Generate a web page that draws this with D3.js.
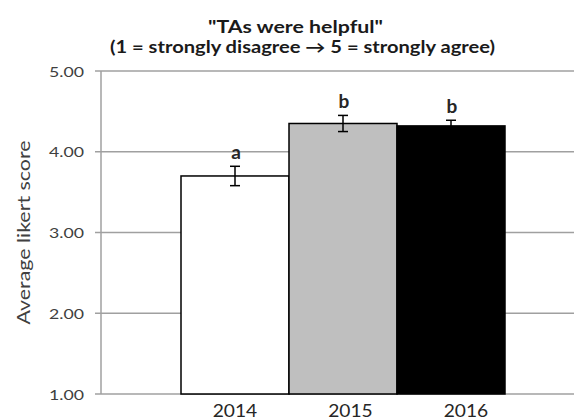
<!DOCTYPE html>
<html>
<head>
<meta charset="utf-8">
<script src="https://cdn.jsdelivr.net/npm/d3@7"></script>
<style>
  html, body { margin: 0; padding: 0; background: #fff; }
  svg { display: block; }
  text { font-family: Lato, "Open Sans", sans-serif; }
</style>
</head>
<body>
<svg id="chart" width="574" height="419"></svg>
<script>
// ---- data ----
const years = ["2014", "2015", "2016"];
const means = [3.70, 4.35, 4.32];
const errors = [0.12, 0.10, 0.07];
const sigLetters = ["a", "b", "b"];
const barFills = ["#ffffff", "#bfbfbf", "#000000"];
const yTicks = [1, 2, 3, 4, 5];
const titleLines = ["\"TAs were helpful\"", "(1 = strongly disagree \u2192 5 = strongly agree)"];
const yTitle = "Average likert score";

// ---- layout ----
const axisX = 101, plotRight = 574;
const svg = d3.select("#chart");

const x = d3.scaleBand().domain(years).range([181, 505]).padding(0);
const xLab = d3.scalePoint().domain(years).range([235, 466]);
const y = d3.scaleLinear().domain([1, 5]).range([394, 71]);

const grid = "#a0a0a0";

// gridlines
svg.append("g").selectAll("line").data(yTicks).join("line")
  .attr("x1", axisX - 6).attr("x2", plotRight)
  .attr("y1", d => y(d)).attr("y2", d => y(d))
  .attr("stroke", grid).attr("stroke-width", 1.5);

// y axis line
svg.append("line")
  .attr("x1", axisX).attr("x2", axisX)
  .attr("y1", y(5)).attr("y2", y(1))
  .attr("stroke", grid).attr("stroke-width", 1.5);

// tick labels
svg.append("g").selectAll("text").data(yTicks).join("text")
  .attr("x", 84).attr("y", d => y(d) + 5.7)
  .attr("text-anchor", "end")
  .attr("font-size", 14)
  .attr("fill", "#404040")
  .attr("textLength", 35).attr("lengthAdjust", "spacingAndGlyphs")
  .text(d => d3.format(".2f")(d));

// bars
svg.append("g").selectAll("rect").data(years).join("rect")
  .attr("x", d => x(d))
  .attr("width", x.bandwidth())
  .attr("y", (d, i) => y(means[i]))
  .attr("height", (d, i) => y(1) - y(means[i]))
  .attr("fill", (d, i) => barFills[i])
  .attr("stroke", "#000").attr("stroke-width", 1.5);

// error bars
const eb = svg.append("g").attr("stroke", "#000").attr("stroke-width", 1.5);
years.forEach((d, i) => {
  const cx = x(d) + x.bandwidth() / 2;
  const top = y(means[i] + errors[i]);
  const bot = y(means[i] - errors[i]);
  eb.append("line").attr("x1", cx).attr("x2", cx).attr("y1", top).attr("y2", bot);
  eb.append("line").attr("x1", cx - 5).attr("x2", cx + 5).attr("y1", top).attr("y2", top);
  eb.append("line").attr("x1", cx - 5).attr("x2", cx + 5).attr("y1", bot).attr("y2", bot);
});

// significance letters
svg.append("g").selectAll("text").data(years).join("text")
  .attr("x", d => x(d) + x.bandwidth() / 2 + 1)
  .attr("y", (d, i) => y(means[i] + errors[i]) - 7)
  .attr("text-anchor", "middle")
  .attr("font-size", 19).attr("font-weight", "bold")
  .attr("fill", "#262626")
  .text((d, i) => sigLetters[i]);

// x labels
svg.append("g").selectAll("text").data(years).join("text")
  .attr("x", d => xLab(d)).attr("y", 416.5)
  .attr("text-anchor", "middle")
  .attr("font-size", 18)
  .attr("fill", "#262626")
  .attr("textLength", 44.5).attr("lengthAdjust", "spacingAndGlyphs")
  .text(d => d);

// title
svg.append("text")
  .attr("x", 208).attr("y", 33.3)
  .attr("font-size", 16.5).attr("font-weight", "bold").attr("fill", "#1a1a1a")
  .attr("textLength", 175).attr("lengthAdjust", "spacingAndGlyphs")
  .text(titleLines[0]);
svg.append("text")
  .attr("x", 110).attr("y", 53.3)
  .attr("font-size", 16.5).attr("font-weight", "bold").attr("fill", "#1a1a1a")
  .attr("textLength", 385).attr("lengthAdjust", "spacingAndGlyphs")
  .text(titleLines[1]);

// y title
svg.append("text")
  .attr("transform", `translate(30,${(y(1) + y(5)) / 2}) rotate(-90)`)
  .attr("text-anchor", "middle")
  .attr("font-size", 17)
  .attr("fill", "#404040")
  .attr("textLength", 184).attr("lengthAdjust", "spacingAndGlyphs")
  .text(yTitle);
</script>
</body>
</html>
